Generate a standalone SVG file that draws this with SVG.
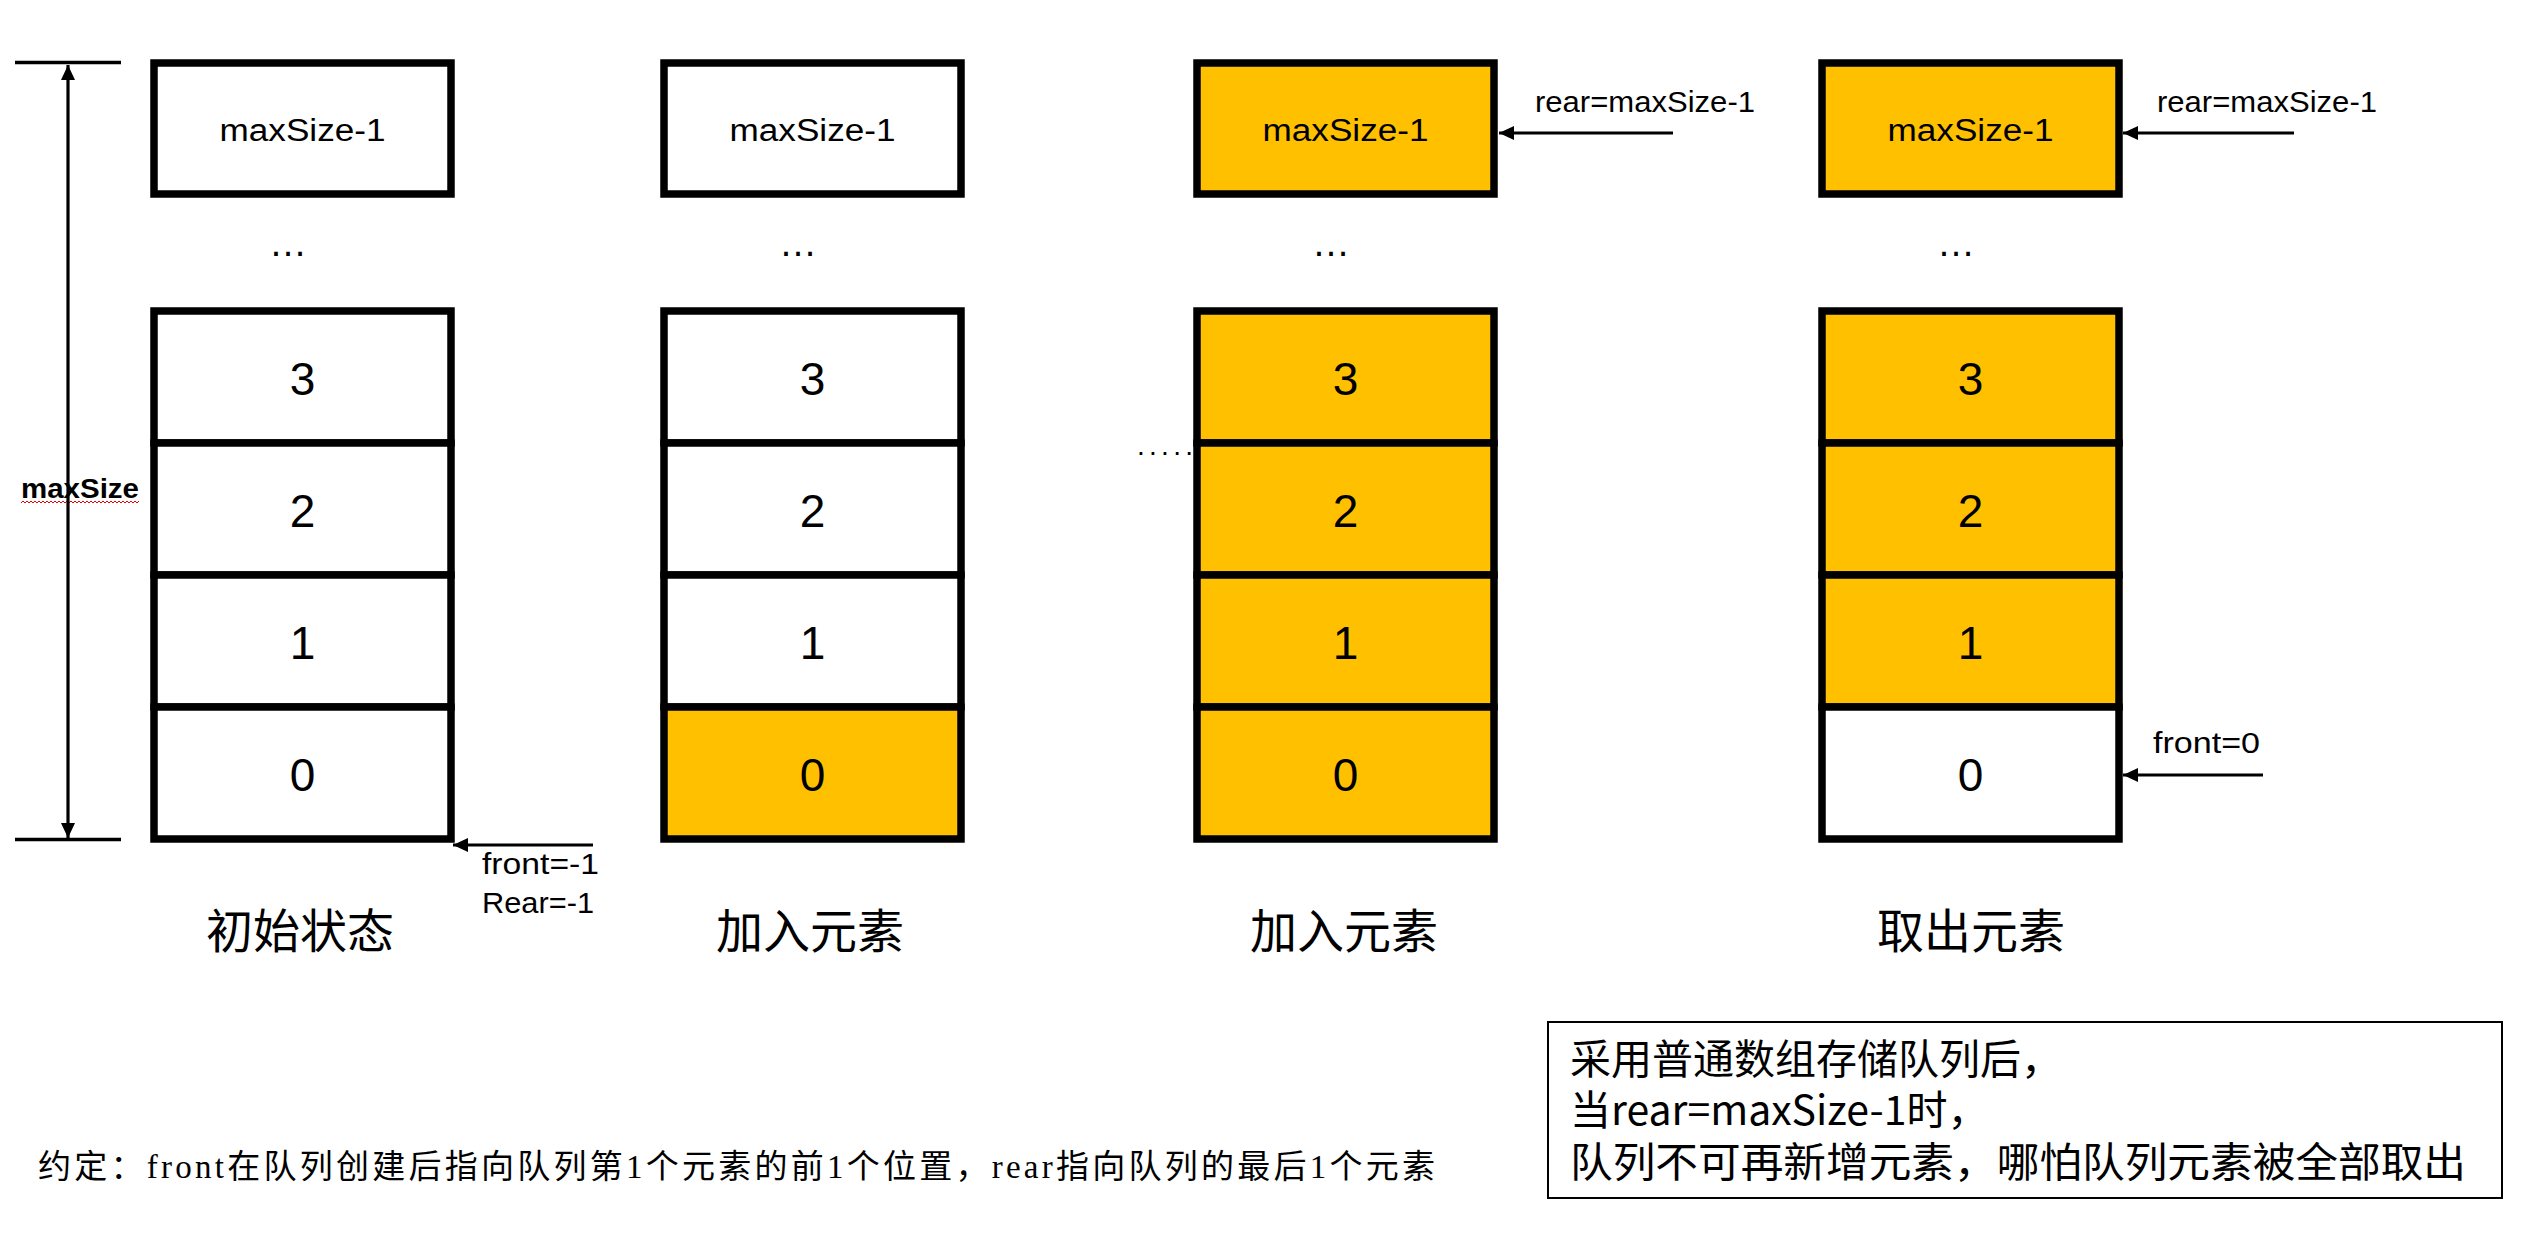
<svg xmlns="http://www.w3.org/2000/svg" width="2545" height="1235" viewBox="0 0 2545 1235">
<style>
.cell{stroke:#000;stroke-width:7.5;fill:#fff}
.on{fill:#FFC000}
.lbl{font-family:"Liberation Sans",Arial,sans-serif;fill:#000}
.top{font-size:31px;text-anchor:middle}
.num{font-size:46px;text-anchor:middle}
.dots{font-size:38px;text-anchor:middle}
.ptr{font-size:29px}
.cap{font-family:"Noto Sans CJK SC",sans-serif;font-size:47px;text-anchor:middle;fill:#000}
.note{font-family:"Liberation Serif","Noto Sans CJK SC",serif;font-size:33px;fill:#000}
.box{font-family:"Noto Sans CJK SC",sans-serif;font-size:41px;fill:#000}
.arr{stroke:#000;stroke-width:3.2;fill:none}
.tick{stroke:#000;stroke-width:3.5}
</style>
<defs>
<marker id="ah" viewBox="0 -8 16 16" refX="15" refY="0" markerWidth="16" markerHeight="16" markerUnits="userSpaceOnUse" orient="auto-start-reverse">
<path d="M0,-7 L15,0 L0,7 z" fill="#000"/>
</marker>
</defs>
<rect width="2545" height="1235" fill="#fff"/>

<!-- Column 1: 初始状态 -->
<g id="col1">
<g id="c1-top"><rect class="cell" x="154" y="63" width="297" height="131"/><text class="lbl top" x="302.5" y="141" textLength="166" lengthAdjust="spacingAndGlyphs">maxSize-1</text></g>
<text class="lbl dots" x="288" y="256">…</text>
<g id="c1-3"><rect class="cell" x="154" y="311" width="297" height="132"/><text class="lbl num" x="302.5" y="395">3</text></g>
<g id="c1-2"><rect class="cell" x="154" y="443" width="297" height="132"/><text class="lbl num" x="302.5" y="527">2</text></g>
<g id="c1-1"><rect class="cell" x="154" y="575" width="297" height="132"/><text class="lbl num" x="302.5" y="659">1</text></g>
<g id="c1-0"><rect class="cell" x="154" y="707" width="297" height="132"/><text class="lbl num" x="302.5" y="791">0</text></g>
<text class="cap" x="300" y="948">初始状态</text>
</g>

<!-- Column 2: 加入元素 -->
<g id="col2">
<g id="c2-top"><rect class="cell" x="664" y="63" width="297" height="131"/><text class="lbl top" x="812.5" y="141" textLength="166" lengthAdjust="spacingAndGlyphs">maxSize-1</text></g>
<text class="lbl dots" x="798" y="256">…</text>
<g id="c2-3"><rect class="cell" x="664" y="311" width="297" height="132"/><text class="lbl num" x="812.5" y="395">3</text></g>
<g id="c2-2"><rect class="cell" x="664" y="443" width="297" height="132"/><text class="lbl num" x="812.5" y="527">2</text></g>
<g id="c2-1"><rect class="cell" x="664" y="575" width="297" height="132"/><text class="lbl num" x="812.5" y="659">1</text></g>
<g id="c2-0"><rect class="cell on" x="664" y="707" width="297" height="132"/><text class="lbl num" x="812.5" y="791">0</text></g>
<text class="cap" x="810" y="948">加入元素</text>
</g>

<!-- Column 3: 加入元素 -->
<g id="col3">
<g id="c3-top"><rect class="cell on" x="1197" y="63" width="297" height="131"/><text class="lbl top" x="1345.5" y="141" textLength="166" lengthAdjust="spacingAndGlyphs">maxSize-1</text></g>
<text class="lbl dots" x="1331" y="256">…</text>
<text class="lbl" x="1137" y="455" font-size="28" textLength="56" lengthAdjust="spacing">.....</text>
<g id="c3-3"><rect class="cell on" x="1197" y="311" width="297" height="132"/><text class="lbl num" x="1345.5" y="395">3</text></g>
<g id="c3-2"><rect class="cell on" x="1197" y="443" width="297" height="132"/><text class="lbl num" x="1345.5" y="527">2</text></g>
<g id="c3-1"><rect class="cell on" x="1197" y="575" width="297" height="132"/><text class="lbl num" x="1345.5" y="659">1</text></g>
<g id="c3-0"><rect class="cell on" x="1197" y="707" width="297" height="132"/><text class="lbl num" x="1345.5" y="791">0</text></g>
<text class="cap" x="1344" y="948">加入元素</text>
</g>

<!-- Column 4: 取出元素 -->
<g id="col4">
<g id="c4-top"><rect class="cell on" x="1822" y="63" width="297" height="131"/><text class="lbl top" x="1970.5" y="141" textLength="166" lengthAdjust="spacingAndGlyphs">maxSize-1</text></g>
<text class="lbl dots" x="1956" y="256">…</text>
<g id="c4-3"><rect class="cell on" x="1822" y="311" width="297" height="132"/><text class="lbl num" x="1970.5" y="395">3</text></g>
<g id="c4-2"><rect class="cell on" x="1822" y="443" width="297" height="132"/><text class="lbl num" x="1970.5" y="527">2</text></g>
<g id="c4-1"><rect class="cell on" x="1822" y="575" width="297" height="132"/><text class="lbl num" x="1970.5" y="659">1</text></g>
<g id="c4-0"><rect class="cell" x="1822" y="707" width="297" height="132"/><text class="lbl num" x="1970.5" y="791">0</text></g>
<text class="cap" x="1971" y="948">取出元素</text>
</g>

<!-- Dimension: maxSize -->
<g id="dim">
<text class="lbl" x="21" y="498" font-size="27" font-weight="bold" textLength="118" lengthAdjust="spacingAndGlyphs">maxSize</text>
<polyline points="21,503 23,501 25,503 27,501 29,503 31,501 33,503 35,501 37,503 39,501 41,503 43,501 45,503 47,501 49,503 51,501 53,503 55,501 57,503 59,501 61,503 63,501 65,503 67,501 69,503 71,501 73,503 75,501 77,503 79,501 81,503 83,501 85,503 87,501 89,503 91,501 93,503 95,501 97,503 99,501 101,503 103,501 105,503 107,501 109,503 111,501 113,503 115,501 117,503 119,501 121,503 123,501 125,503 127,501 129,503 131,501 133,503 135,501 137,503 139,501" fill="none" stroke="#e00" stroke-width="1"/>
</g>

<!-- Connectors -->
<g id="connectors">
<line class="tick" x1="15" y1="62.5" x2="121" y2="62.5"/>
<line class="tick" x1="15" y1="839.5" x2="121" y2="839.5"/>
<line class="arr" x1="68" y1="65" x2="68" y2="838" marker-start="url(#ah)" marker-end="url(#ah)"/>
<line class="arr" x1="593" y1="845" x2="453" y2="845" marker-end="url(#ah)"/>
<line class="arr" x1="1673" y1="133" x2="1499" y2="133" marker-end="url(#ah)"/>
<line class="arr" x1="2294" y1="133" x2="2123" y2="133" marker-end="url(#ah)"/>
<line class="arr" x1="2263" y1="775" x2="2123" y2="775" marker-end="url(#ah)"/>
</g>

<!-- Pointer labels -->
<g id="pointers">
<text class="lbl ptr" x="482" y="874" font-size="28" textLength="117" lengthAdjust="spacingAndGlyphs">front=-1</text>
<text class="lbl ptr" x="482" y="913" font-size="28" textLength="112" lengthAdjust="spacingAndGlyphs">Rear=-1</text>
<text class="lbl ptr" x="1535" y="112" textLength="220" lengthAdjust="spacingAndGlyphs">rear=maxSize-1</text>
<text class="lbl ptr" x="2157" y="112" textLength="220" lengthAdjust="spacingAndGlyphs">rear=maxSize-1</text>
<text class="lbl ptr" x="2153" y="753" font-size="28" textLength="107" lengthAdjust="spacingAndGlyphs">front=0</text>
</g>

<!-- Convention note -->
<g id="note">
<text class="note" x="38" y="1178" textLength="1397" lengthAdjust="spacing">约定：front在队列创建后指向队列第1个元素的前1个位置，rear指向队列的最后1个元素</text>
</g>

<!-- Summary box -->
<g id="summary">
<rect x="1548" y="1022" width="954" height="176" fill="#fff" stroke="#000" stroke-width="2"/>
<text class="box" x="1570" y="1074">采用普通数组存储队列后，</text>
<text class="box" x="1570" y="1125">当rear=maxSize-1时，</text>
<text class="box" x="1570" y="1177" textLength="896" lengthAdjust="spacingAndGlyphs">队列不可再新增元素，哪怕队列元素被全部取出</text>
</g>
</svg>
